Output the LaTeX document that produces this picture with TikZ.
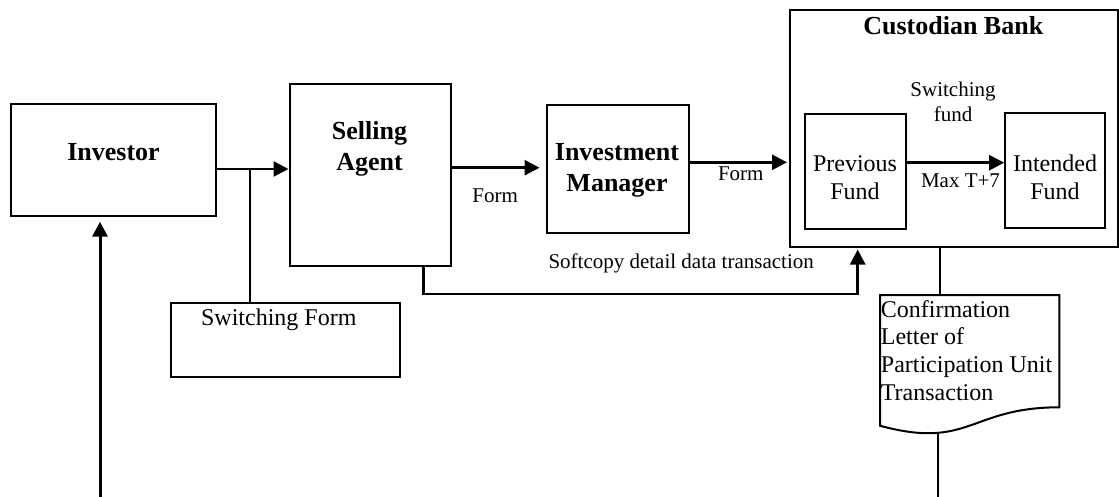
\documentclass[tikz,border=0pt]{standalone}
\usepackage{fontspec}
\setmainfont{Liberation Serif}
\usetikzlibrary{arrows.meta}
\begin{document}
\begin{tikzpicture}[x=1pt,y=-1pt,
  box/.style={draw, line width=2pt, inner sep=0pt, rectangle},
  flow/.style={line width=2.5pt, -{Triangle[length=15pt,width=15pt]}},
  link/.style={line width=2pt},
  title/.style={font=\fontsize{26}{31}\selectfont\bfseries, inner sep=0pt, align=center},
  body/.style={font=\fontsize{24}{27.6}\selectfont, inner sep=0pt, align=center},
  small/.style={font=\fontsize{21}{25}\selectfont, inner sep=0pt, align=center},
]
\useasboundingbox (0,0) rectangle (1119,497);

% boxes
\node[box, minimum width=205pt, minimum height=112.4pt] (inv) at (113.8,160) {};
\node[box, minimum width=161pt, minimum height=181.7pt] (sa) at (370,174.7) {};
\node[box, minimum width=142.3pt, minimum height=128pt] (im) at (617.7,169.5) {};
\node[box, minimum width=328pt, minimum height=236pt] (cb) at (953.5,128.5) {};
\node[box, minimum width=101.3pt, minimum height=115.3pt] (pf) at (855.2,171.2) {};
\node[box, minimum width=100.3pt, minimum height=115.3pt] (if) at (1055.3,170.2) {};
\node[box, minimum width=229pt, minimum height=74pt] (sf) at (285.7,339.8) {};

% box texts
\node[title, anchor=base] (invT) at (113.5,160.7) {Investor};
\node[title] (saT) at (369.5,148.4) {Selling\\Agent};
\node[title] (imT) at (617,170.5) {Investment\\Manager};
\node[title, anchor=base] (cbT) at (953.3,34.3) {Custodian Bank};
\node[body] (pfT) at (855,177.4) {Previous\\Fund};
\node[body] (ifT) at (1055,177.2) {Intended\\Fund};
\node[body, anchor=base] (sfT) at (278.8,325.7) {Switching Form};

% connector labels
\node[small] (swT) at (953,102) {Switching\\fund};
\node[small, anchor=base] (mxT) at (960.5,187.7) {Max T+7};
\node[small, anchor=base] (f1) at (495.2,202.7) {Form};
\node[small, anchor=base] (f2) at (740.8,181) {Form};
\node[small, anchor=base west] (soft) at (548.3,268.3) {Softcopy detail data transaction};

% document symbol
\draw[link] (880.2,295) coordinate (dnw) -- (1059.3,295) -- (1059.3,407.3)
  .. controls (969.75,407.3) and (969.75,450) .. (880.2,425.8)
  coordinate[pos=0.72] (dfoot) -- cycle;
\node[body, align=left, anchor=north west] (docT) at (880.7,300.3)
  {Confirmation\\Letter of\\Participation Unit\\Transaction};

% connectors
\coordinate (split) at (250,169);
\draw[flow] (inv.east |- split) -- (sa.west |- split);
\draw[line width=2.5pt] (split) -- (sf.north -| split);

\coordinate (src) at (100,497);
\draw[flow, line width=3pt, shorten >=4.5pt] (src) -- (inv.south -| src);

\draw[flow, shorten >=6pt] ([yshift=7pt]sa.east) coordinate (a1) -- (a1 -| im.west);
\draw[flow, shorten >=1.5pt] ([yshift=7.2pt]im.east) coordinate (a2) -- (a2 -| cb.west);
\draw[flow] ([yshift=8.5pt]pf.east) coordinate (a3) -- (a3 -| if.west);

\coordinate (sc) at (857.7,294);
\draw[flow, shorten >=2pt] ([xshift=53.3pt]sa.south) |- (sc) -- (sc |- cb.south);

\draw[link] ([xshift=-13.5pt]cb.south) coordinate (c1) -- (c1 |- dnw);
\coordinate (ground) at (937.7,497);
\draw[link] (dfoot) -- (dfoot |- ground);
\end{tikzpicture}
\end{document}
